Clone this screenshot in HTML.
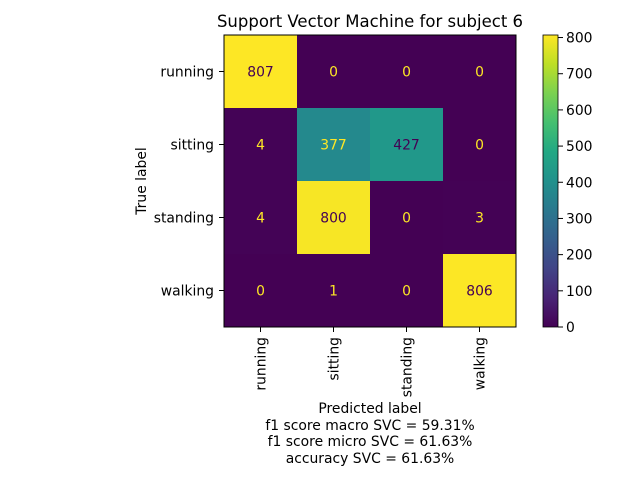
<!DOCTYPE html>
<html><head><meta charset="utf-8"><style>
body{margin:0;background:#fff;font-family:"Liberation Sans","DejaVu Sans",sans-serif;}
svg text{font-family:"DejaVu Sans","Liberation Sans",sans-serif;}
</style></head><body>
<svg id="c" width="640" height="480" xmlns="http://www.w3.org/2000/svg">
<defs><linearGradient id="vir" x1="0" y1="1" x2="0" y2="0">
<stop offset="0" stop-color="#440154"/><stop offset="0.1" stop-color="#482475"/><stop offset="0.2" stop-color="#414487"/><stop offset="0.3" stop-color="#355f8d"/><stop offset="0.4" stop-color="#2a788e"/><stop offset="0.5" stop-color="#21918c"/><stop offset="0.6" stop-color="#22a884"/><stop offset="0.7" stop-color="#44bf70"/><stop offset="0.8" stop-color="#7ad151"/><stop offset="0.9" stop-color="#bddf26"/><stop offset="1" stop-color="#fde725"/>
</linearGradient></defs>
<text x="370" y="27" font-size="16.5" text-anchor="middle">Support Vector Machine for subject 6</text>
<g id="cells"></g>
<rect x="224" y="35" width="292" height="292" fill="none" stroke="#000" stroke-width="1"/>
<g id="axes" font-size="13.9"></g>
<text x="146" y="181" font-size="13.9" text-anchor="middle" transform="rotate(-90 146 181)">True label</text>
<text x="370" y="413" font-size="13.9" text-anchor="middle">Predicted label</text>
<text x="370" y="430" font-size="13.9" text-anchor="middle">f1 score macro SVC = 59.31%</text>
<text x="370" y="446" font-size="13.9" text-anchor="middle">f1 score micro SVC = 61.63%</text>
<text x="370" y="463" font-size="13.9" text-anchor="middle">accuracy SVC = 61.63%</text>
<rect x="543" y="35" width="15" height="292" fill="url(#vir)" stroke="#000" stroke-width="0.8"/>
<g id="cb" font-size="13.9"></g>
</svg>
<script>
const labels=["running","sitting","standing","walking"];
const matrix=[[807,0,0,0],[4,377,427,0],[4,800,0,3],[0,1,0,806]];
const cbTicks=[0,100,200,300,400,500,600,700,800];
const vmax=807;
const stops=["#440154","#482475","#414487","#355f8d","#2a788e","#21918c","#22a884","#44bf70","#7ad151","#bddf26","#fde725"];
function hx(h){return [1,3,5].map(i=>parseInt(h.substr(i,2),16));}
function vir(t){t=Math.max(0,Math.min(1,t))*10;const i=Math.min(9,Math.floor(t)),f=t-i;const a=hx(stops[i]),b=hx(stops[i+1]);return "rgb("+a.map((v,k)=>Math.round(v+(b[k]-v)*f)).join(",")+")";}
const NS="http://www.w3.org/2000/svg";
const x0=224,y0=35,W=292,n=labels.length,cs=W/n;
const cx=j=>x0+cs*(j+0.5), cy=i=>y0+cs*(i+0.5);
function mk(tag,at,p){const e=document.createElementNS(NS,tag);for(const k in at)e.setAttribute(k,at[k]);p.appendChild(e);return e;}
const cells=document.getElementById('cells'),ax=document.getElementById('axes'),cb=document.getElementById('cb');
matrix.forEach((row,i)=>row.forEach((v,j)=>{
 const r=mk('rect',{x:x0+cs*j,y:y0+cs*i,width:cs+0.5,height:cs+0.5,fill:vir(v/vmax)},cells);
 
 
 const t=mk('text',{x:cx(j),y:cy(i)+5,'font-size':13.9,'text-anchor':'middle',fill:v<vmax/2?'#fde725':'#440154'},cells);
 t.textContent=v;
 
 
}));
labels.forEach((l,i)=>{
 mk('line',{x1:x0-5,x2:x0,y1:cy(i),y2:cy(i),stroke:'#000'},ax);
 const t=mk('text',{x:x0-10,y:cy(i)+5,'text-anchor':'end'},ax);t.textContent=l;
 
 
 mk('line',{x1:cx(i),x2:cx(i),y1:y0+W,y2:y0+W+5,stroke:'#000'},ax);
 const u=mk('text',{x:cx(i)+5,y:y0+W+10,'text-anchor':'end',transform:'rotate(-90 '+(cx(i)+5)+' '+(y0+W+10)+')'},ax);u.textContent=l;
 
 
});
cbTicks.forEach(v=>{const y=327-v/vmax*292;
 mk('line',{x1:558,x2:563,y1:y,y2:y,stroke:'#000'},cb);
 const t=mk('text',{x:566,y:y+5},cb);t.textContent=v;
 
 });
</script>
</body></html>
